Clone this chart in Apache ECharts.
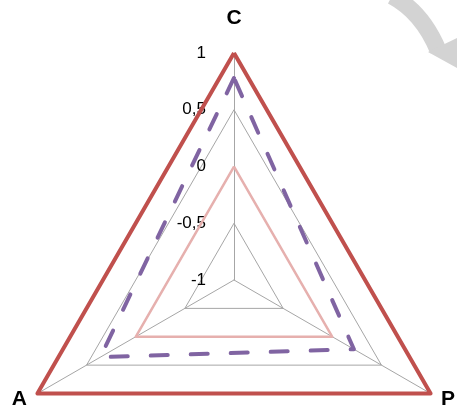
<!DOCTYPE html>
<html>
<head>
<meta charset="utf-8">
<script src="https://cdn.jsdelivr.net/npm/echarts@6/dist/echarts.min.js"></script>
<style>
  html, body { margin: 0; padding: 0; background: #fff; }
  #chart { width: 457px; height: 412px; }
</style>
</head>
<body>
<div id="chart"></div>
<script>
// indicators, clockwise from the top as ECharts lays them out (C top, A left, P right)
var indicatorNames = ["C", "A", "P"];
var tickLabels = ["-1", "-0,5", "0", "0,5", "1"];

// series values, same order as indicatorNames
var outerValues = [1, 1, 1];
var dashedValues = [0.78, 0.36, 0.22];
var innerValues = [0, 0, 0];

var nameFont = { color: "#000", fontSize: 21, fontWeight: "bold", fontFamily: "Liberation Sans" };

var chart = echarts.init(document.getElementById("chart"));

chart.setOption({
  backgroundColor: "#FFFFFF",
  animation: false,
  radar: {
    center: [234, 280],
    radius: 227,
    startAngle: 90,
    shape: "polygon",
    splitNumber: 4,
    nameGap: 12,
    axisName: Object.assign({}, nameFont, {
      // the top name sits a bit higher than the gap gives
      formatter: function (name) {
        return name === "C" ? "{top|" + name + "}" : name;
      },
      rich: {
        top: Object.assign({}, nameFont, { padding: [0, 0, 12, 0] })
      }
    }),
    indicator: indicatorNames.map(function (n, i) {
      var ind = { name: n, min: -1, max: 1 };
      if (i === 0) {
        ind.axisLabel = {
          show: true,
          color: "#000",
          fontSize: 17,
          fontFamily: "Liberation Sans",
          margin: 28,
          formatter: function (v) {
            return tickLabels[Math.round((v + 1) / 0.5)];
          }
        };
      }
      return ind;
    }),
    axisLabel: { show: false },
    axisTick: { show: false },
    axisLine: { lineStyle: { color: "#a6a6a6", width: 1 } },
    splitLine: { lineStyle: { color: "#a6a6a6", width: 1 } },
    splitArea: { show: false }
  },
  series: [{
    type: "radar",
    symbol: "none",
    silent: true,
    data: [
      {
        value: innerValues,
        lineStyle: { color: "#e6b0ae", width: 2.5 }
      },
      {
        value: dashedValues,
        lineStyle: { color: "#8064a2", width: 4, type: [17, 23], cap: "round" }
      },
      {
        value: outerValues,
        lineStyle: { color: "#c0504d", width: 4 }
      }
    ]
  }],
  graphic: [
    {
      type: "bezierCurve",
      shape: { x1: 392, y1: -4, x2: 438, y2: 50, cpx1: 422, cpy1: 12 },
      style: { stroke: "#d3d3d3", lineWidth: 17, fill: null }
    },
    {
      type: "polygon",
      shape: { points: [[428, 52], [457, 38], [457, 68]] },
      style: { fill: "#d3d3d3" }
    }
  ]
});
</script>
</body>
</html>
